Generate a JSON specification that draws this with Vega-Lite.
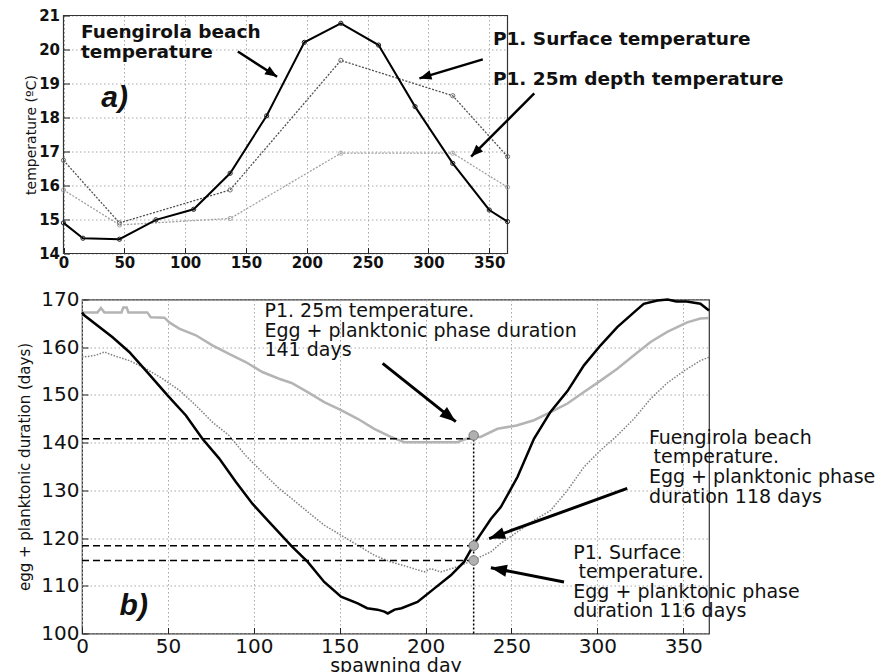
{
  "$schema": "https://vega.github.io/schema/vega-lite/v6.json",
  "background": "white",
  "padding": {"left": 17, "top": 8.5, "right": 0, "bottom": 0},
  "spacing": 18,
  "config": {
    "font": "DejaVu Sans",
    "view": {"stroke": "#333", "strokeWidth": 1.2},
    "axis": {"grid": true, "gridColor": "#a8a8a8", "gridDash": [1.5, 2.5], "gridWidth": 1, "domain": false, "ticks": true, "tickSize": -6, "tickColor": "#222", "tickWidth": 1, "labelColor": "#111", "titleColor": "#111", "titleFontWeight": "normal", "labelFlush": false, "labelOverlap": false}
  },
  "datasets": {
    "temp": [
      {"series": "beach", "day": 0, "temp": 14.9}, {"series": "beach", "day": 16, "temp": 14.45}, {"series": "beach", "day": 46, "temp": 14.42}, {"series": "beach", "day": 76, "temp": 14.99}, {"series": "beach", "day": 107, "temp": 15.3}, {"series": "beach", "day": 137, "temp": 16.36}, {"series": "beach", "day": 167, "temp": 18.05}, {"series": "beach", "day": 198, "temp": 20.21}, {"series": "beach", "day": 228, "temp": 20.77}, {"series": "beach", "day": 259, "temp": 20.13}, {"series": "beach", "day": 289, "temp": 18.32}, {"series": "beach", "day": 320, "temp": 16.65}, {"series": "beach", "day": 350, "temp": 15.28}, {"series": "beach", "day": 365, "temp": 14.94},
      {"series": "surface", "day": 0, "temp": 16.74}, {"series": "surface", "day": 46, "temp": 14.9}, {"series": "surface", "day": 137, "temp": 15.87}, {"series": "surface", "day": 228, "temp": 19.68}, {"series": "surface", "day": 320, "temp": 18.64}, {"series": "surface", "day": 365, "temp": 16.85},
      {"series": "depth25", "day": 0, "temp": 15.87}, {"series": "depth25", "day": 46, "temp": 14.84}, {"series": "depth25", "day": 137, "temp": 15.03}, {"series": "depth25", "day": 228, "temp": 16.95}, {"series": "depth25", "day": 320, "temp": 16.95}, {"series": "depth25", "day": 365, "temp": 15.95}
    ],
    "topframe": [{"day": 0, "temp": 14, "day2": 365, "temp2": 21}],
    "topxticks": [{"day": 50}, {"day": 100}, {"day": 150}, {"day": 200}, {"day": 250}, {"day": 300}, {"day": 350}],
    "topyticks": [{"temp": 15}, {"temp": 16}, {"temp": 17}, {"temp": 18}, {"temp": 19}, {"temp": 20}],
    "topnotes": [
      {"day": 14.4, "temp": 20.33, "text": "Fuengirola beach"},
      {"day": 14.4, "temp": 19.75, "text": "temperature"},
      {"day": 353, "temp": 20.13, "text": "P1. Surface temperature"},
      {"day": 353, "temp": 18.96, "text": "P1. 25m depth temperature"}
    ],
    "toparrows": [
      {"id": "a1", "day": 175.6, "temp": 19.2, "day2": 143.3, "temp2": 19.94},
      {"id": "a2", "day": 292.6, "temp": 19.15, "day2": 344.7, "temp2": 19.71},
      {"id": "a3", "day": 335.1, "temp": 16.85, "day2": 387, "temp2": 18.71}
    ],
    "toplabel": [{"day": 31, "temp": 18.3, "text": "a)"}],
    "dur": [
      {"series": "beach", "day": 0, "dur": 167.3}, {"series": "beach", "day": 1.3, "dur": 166.7}, {"series": "beach", "day": 17.8, "dur": 162.1}, {"series": "beach", "day": 27.5, "dur": 159.0}, {"series": "beach", "day": 37.2, "dur": 155.1}, {"series": "beach", "day": 49.8, "dur": 149.9}, {"series": "beach", "day": 60.5, "dur": 145.7}, {"series": "beach", "day": 70.1, "dur": 140.8}, {"series": "beach", "day": 79.8, "dur": 136.7}, {"series": "beach", "day": 89.5, "dur": 131.8}, {"series": "beach", "day": 99.2, "dur": 127.2}, {"series": "beach", "day": 108.9, "dur": 123.4}, {"series": "beach", "day": 122, "dur": 118.3}, {"series": "beach", "day": 131.4, "dur": 115.0}, {"series": "beach", "day": 141, "dur": 110.8}, {"series": "beach", "day": 150.8, "dur": 107.7}, {"series": "beach", "day": 160.5, "dur": 106.3}, {"series": "beach", "day": 166, "dur": 105.3}, {"series": "beach", "day": 172, "dur": 105.0}, {"series": "beach", "day": 176, "dur": 104.6}, {"series": "beach", "day": 178, "dur": 104.2}, {"series": "beach", "day": 182, "dur": 105.0}, {"series": "beach", "day": 186, "dur": 105.3}, {"series": "beach", "day": 195.3, "dur": 106.6}, {"series": "beach", "day": 205, "dur": 109.4}, {"series": "beach", "day": 214.7, "dur": 112.2}, {"series": "beach", "day": 222.4, "dur": 115.0}, {"series": "beach", "day": 228.3, "dur": 118.8}, {"series": "beach", "day": 238, "dur": 124.0}, {"series": "beach", "day": 243.8, "dur": 126.5}, {"series": "beach", "day": 253.5, "dur": 132.8}, {"series": "beach", "day": 263.1, "dur": 140.8}, {"series": "beach", "day": 272.8, "dur": 146.5}, {"series": "beach", "day": 282.6, "dur": 150.8}, {"series": "beach", "day": 292.2, "dur": 156.2}, {"series": "beach", "day": 301.9, "dur": 160.4}, {"series": "beach", "day": 311.6, "dur": 164.2}, {"series": "beach", "day": 321.3, "dur": 167.3}, {"series": "beach", "day": 327, "dur": 169.1}, {"series": "beach", "day": 335, "dur": 169.8}, {"series": "beach", "day": 341, "dur": 170.0}, {"series": "beach", "day": 346, "dur": 169.6}, {"series": "beach", "day": 352, "dur": 169.6}, {"series": "beach", "day": 360, "dur": 169.1}, {"series": "beach", "day": 365, "dur": 167.7},
      {"series": "depth25", "day": 0, "dur": 167.3}, {"series": "depth25", "day": 9, "dur": 167.3}, {"series": "depth25", "day": 11, "dur": 168.2}, {"series": "depth25", "day": 13, "dur": 167.3}, {"series": "depth25", "day": 23, "dur": 167.3}, {"series": "depth25", "day": 24, "dur": 168.3}, {"series": "depth25", "day": 26, "dur": 168.3}, {"series": "depth25", "day": 27, "dur": 167.3}, {"series": "depth25", "day": 38, "dur": 167.3}, {"series": "depth25", "day": 40, "dur": 166.3}, {"series": "depth25", "day": 48, "dur": 166.2}, {"series": "depth25", "day": 50.8, "dur": 165.2}, {"series": "depth25", "day": 56.6, "dur": 163.9}, {"series": "depth25", "day": 66.3, "dur": 162.5}, {"series": "depth25", "day": 75.9, "dur": 160.4}, {"series": "depth25", "day": 85.6, "dur": 158.6}, {"series": "depth25", "day": 95.3, "dur": 156.9}, {"series": "depth25", "day": 105, "dur": 154.8}, {"series": "depth25", "day": 114.7, "dur": 153.4}, {"series": "depth25", "day": 122, "dur": 152.5}, {"series": "depth25", "day": 131.4, "dur": 150.6}, {"series": "depth25", "day": 141, "dur": 148.5}, {"series": "depth25", "day": 150.8, "dur": 146.8}, {"series": "depth25", "day": 160.5, "dur": 145.0}, {"series": "depth25", "day": 170.1, "dur": 142.9}, {"series": "depth25", "day": 179.8, "dur": 141.2}, {"series": "depth25", "day": 187.6, "dur": 140.1}, {"series": "depth25", "day": 218.6, "dur": 140.1}, {"series": "depth25", "day": 222, "dur": 140.6}, {"series": "depth25", "day": 228, "dur": 141.2}, {"series": "depth25", "day": 232, "dur": 141.2}, {"series": "depth25", "day": 241.9, "dur": 142.9}, {"series": "depth25", "day": 253, "dur": 143.6}, {"series": "depth25", "day": 263.1, "dur": 144.7}, {"series": "depth25", "day": 272.8, "dur": 146.4}, {"series": "depth25", "day": 282.6, "dur": 148.2}, {"series": "depth25", "day": 292.2, "dur": 150.6}, {"series": "depth25", "day": 301.9, "dur": 153.0}, {"series": "depth25", "day": 311.6, "dur": 155.5}, {"series": "depth25", "day": 321.3, "dur": 158.3}, {"series": "depth25", "day": 331, "dur": 161.1}, {"series": "depth25", "day": 340.7, "dur": 163.2}, {"series": "depth25", "day": 352.3, "dur": 165.2}, {"series": "depth25", "day": 360, "dur": 166.0}, {"series": "depth25", "day": 365, "dur": 166.1},
      {"series": "surface", "day": 0, "dur": 157.9}, {"series": "surface", "day": 8, "dur": 158.3}, {"series": "surface", "day": 13, "dur": 159.0}, {"series": "surface", "day": 18, "dur": 158.3}, {"series": "surface", "day": 27.5, "dur": 157.2}, {"series": "surface", "day": 37.2, "dur": 155.5}, {"series": "surface", "day": 46.9, "dur": 153.4}, {"series": "surface", "day": 56.6, "dur": 151.0}, {"series": "surface", "day": 66.3, "dur": 147.8}, {"series": "surface", "day": 75.9, "dur": 144.3}, {"series": "surface", "day": 85.6, "dur": 141.5}, {"series": "surface", "day": 95.3, "dur": 137.3}, {"series": "surface", "day": 105, "dur": 133.8}, {"series": "surface", "day": 114.7, "dur": 130.4}, {"series": "surface", "day": 122, "dur": 128.3}, {"series": "surface", "day": 131.4, "dur": 125.5}, {"series": "surface", "day": 141, "dur": 122.7}, {"series": "surface", "day": 150.8, "dur": 120.6}, {"series": "surface", "day": 160.5, "dur": 118.5}, {"series": "surface", "day": 170.1, "dur": 116.4}, {"series": "surface", "day": 179.8, "dur": 115.0}, {"series": "surface", "day": 189.5, "dur": 114.0}, {"series": "surface", "day": 199.2, "dur": 112.9}, {"series": "surface", "day": 203, "dur": 113.6}, {"series": "surface", "day": 208.9, "dur": 112.9}, {"series": "surface", "day": 218.6, "dur": 114.0}, {"series": "surface", "day": 227.3, "dur": 115.3}, {"series": "surface", "day": 238, "dur": 117.1}, {"series": "surface", "day": 243.8, "dur": 118.9}, {"series": "surface", "day": 263.1, "dur": 123.7}, {"series": "surface", "day": 272.8, "dur": 125.8}, {"series": "surface", "day": 282.6, "dur": 130.0}, {"series": "surface", "day": 292.2, "dur": 134.9}, {"series": "surface", "day": 301.9, "dur": 138.4}, {"series": "surface", "day": 311.6, "dur": 141.5}, {"series": "surface", "day": 321.3, "dur": 145.0}, {"series": "surface", "day": 331, "dur": 149.2}, {"series": "surface", "day": 340.7, "dur": 152.5}, {"series": "surface", "day": 350.3, "dur": 155.0}, {"series": "surface", "day": 360, "dur": 157.2}, {"series": "surface", "day": 365, "dur": 157.9}
    ],
    "botxticks": [{"day": 10}, {"day": 20}, {"day": 30}, {"day": 40}, {"day": 50}, {"day": 60}, {"day": 70}, {"day": 80}, {"day": 90}, {"day": 100}, {"day": 110}, {"day": 120}, {"day": 130}, {"day": 140}, {"day": 150}, {"day": 160}, {"day": 170}, {"day": 180}, {"day": 190}, {"day": 200}, {"day": 210}, {"day": 220}, {"day": 230}, {"day": 240}, {"day": 250}, {"day": 260}, {"day": 270}, {"day": 280}, {"day": 290}, {"day": 300}, {"day": 310}, {"day": 320}, {"day": 330}, {"day": 340}, {"day": 350}, {"day": 360}],
    "botyticks": [{"dur": 102}, {"dur": 104}, {"dur": 106}, {"dur": 108}, {"dur": 110}, {"dur": 112}, {"dur": 114}, {"dur": 116}, {"dur": 118}, {"dur": 120}, {"dur": 122}, {"dur": 124}, {"dur": 126}, {"dur": 128}, {"dur": 130}, {"dur": 132}, {"dur": 134}, {"dur": 136}, {"dur": 138}, {"dur": 140}, {"dur": 142}, {"dur": 144}, {"dur": 146}, {"dur": 148}, {"dur": 150}, {"dur": 152}, {"dur": 154}, {"dur": 156}, {"dur": 158}, {"dur": 160}, {"dur": 162}, {"dur": 164}, {"dur": 166}, {"dur": 168}],
    "hrefs": [
      {"day": 0, "dur": 140.8, "day2": 228},
      {"day": 0, "dur": 118.4, "day2": 228},
      {"day": 0, "dur": 115.3, "day2": 228}
    ],
    "vref": [{"day": 228, "dur": 100, "dur2": 141.5}],
    "markers": [
      {"day": 228, "dur": 141.5},
      {"day": 228, "dur": 118.4},
      {"day": 228, "dur": 115.3}
    ],
    "botnotes": [
      {"day": 106.2, "dur": 166.3, "text": "P1. 25m temperature."},
      {"day": 106.2, "dur": 162.2, "text": "Egg + planktonic phase duration"},
      {"day": 106.2, "dur": 158.2, "text": "141 days"},
      {"day": 330, "dur": 139.8, "text": "Fuengirola beach"},
      {"day": 332.7, "dur": 135.7, "text": "temperature."},
      {"day": 330, "dur": 131.5, "text": "Egg + planktonic phase"},
      {"day": 330, "dur": 127.4, "text": "duration 118 days"},
      {"day": 286, "dur": 115.7, "text": "P1. Surface"},
      {"day": 289, "dur": 111.6, "text": "temperature."},
      {"day": 286, "dur": 107.4, "text": "Egg + planktonic phase"},
      {"day": 286, "dur": 103.4, "text": "duration 116 days"}
    ],
    "botarrows": [
      {"id": "b1", "day": 217.6, "dur": 144.4, "day2": 175, "dur2": 156.6},
      {"id": "b2", "day": 237, "dur": 119.9, "day2": 317.4, "dur2": 130.4},
      {"id": "b3", "day": 238, "dur": 113.8, "day2": 280.6, "dur2": 110.8}
    ],
    "botlabel": [{"day": 21.9, "dur": 103.85, "text": "b)"}]
  },
  "vconcat": [
    {
      "width": 426,
      "height": 238,
      "view": {"stroke": null},
      "encoding": {
        "x": {"field": "day", "type": "quantitative", "scale": {"domain": [0, 365], "range": [-18.5, 425.5], "nice": false, "zero": false},
          "axis": {"values": [0, 50, 100, 150, 200, 250, 300, 350], "labelFontSize": 15, "labelFontWeight": "bold", "labelPadding": 7.5, "labelOverlap": false, "title": null}},
        "y": {"field": "temp", "type": "quantitative", "scale": {"domain": [14, 21], "nice": false, "zero": false},
          "axis": {"values": [14, 15, 16, 17, 18, 19, 20, 21], "offset": 18.5, "labelFontSize": 15, "labelFontWeight": "bold", "labelPadding": 10, "labelOverlap": false, "labelBound": false, "title": "temperature (ºC)", "titleFontSize": 14, "titlePadding": 0}}
      },
      "layer": [
        {
          "data": {"name": "topframe"},
          "mark": {"type": "rect", "fill": "white", "fillOpacity": 0, "stroke": "#333", "strokeWidth": 1.2},
          "encoding": {"x2": {"field": "day2"}, "y2": {"field": "temp2"}}
        },
        {
          "data": {"name": "topxticks"},
          "mark": {"type": "rule", "color": "#222", "strokeWidth": 1},
          "encoding": {
            "y": {"datum": 21, "type": "quantitative", "axis": {"values": [14, 15, 16, 17, 18, 19, 20, 21], "offset": 18.5, "labelFontSize": 15, "labelFontWeight": "bold", "labelPadding": 10, "labelOverlap": false, "labelBound": false, "title": "temperature (ºC)", "titleFontSize": 14, "titlePadding": 0}},
            "y2": {"datum": 20.83}
          }
        },
        {
          "data": {"name": "topyticks"},
          "mark": {"type": "rule", "color": "#222", "strokeWidth": 1},
          "encoding": {
            "x": {"datum": 365, "type": "quantitative", "axis": {"values": [0, 50, 100, 150, 200, 250, 300, 350], "labelFontSize": 15, "labelFontWeight": "bold", "labelPadding": 7.5, "labelOverlap": false, "title": null}},
            "x2": {"datum": 360.1}
          }
        },
        {
          "data": {"name": "temp"},
          "transform": [{"filter": "datum.series === 'depth25'"}],
          "mark": {"type": "line", "color": "#a0a0a0", "strokeWidth": 1.3, "strokeDash": [2, 1.5]}
        },
        {
          "data": {"name": "temp"},
          "transform": [{"filter": "datum.series === 'surface'"}],
          "mark": {"type": "line", "color": "#505050", "strokeWidth": 1.3, "strokeDash": [2, 1.5]}
        },
        {
          "data": {"name": "temp"},
          "transform": [{"filter": "datum.series === 'beach'"}],
          "mark": {"type": "line", "color": "#000", "strokeWidth": 2}
        },
        {
          "data": {"name": "temp"},
          "mark": {"type": "point", "size": 18, "strokeWidth": 1, "opacity": 1},
          "encoding": {
            "color": {"field": "series", "type": "nominal", "scale": {"domain": ["beach", "surface", "depth25"], "range": ["#222", "#707070", "#a8a8a8"]}, "legend": null}
          }
        },
        {
          "data": {"name": "toparrows"},
          "mark": {"type": "rule", "color": "#000", "strokeWidth": 2.5},
          "encoding": {"x2": {"field": "day2"}, "y2": {"field": "temp2"}}
        },
        {
          "data": {"name": "toparrows"},
          "transform": [{"filter": "datum.id === 'a1'"}],
          "mark": {"type": "point", "shape": "M0,0L-0.4,1L0.4,1Z", "filled": true, "color": "#000", "opacity": 1, "size": 576, "angle": 122.5}
        },
        {
          "data": {"name": "toparrows"},
          "transform": [{"filter": "datum.id === 'a2'"}],
          "mark": {"type": "point", "shape": "M0,0L-0.4,1L0.4,1Z", "filled": true, "color": "#000", "opacity": 1, "size": 576, "angle": 253.3}
        },
        {
          "data": {"name": "toparrows"},
          "transform": [{"filter": "datum.id === 'a3'"}],
          "mark": {"type": "point", "shape": "M0,0L-0.4,1L0.4,1Z", "filled": true, "color": "#000", "opacity": 1, "size": 576, "angle": 225}
        },
        {
          "data": {"name": "topnotes"},
          "mark": {"type": "text", "align": "left", "baseline": "alphabetic", "fontSize": 18.5, "fontWeight": "bold", "color": "#111"},
          "encoding": {"text": {"field": "text"}}
        },
        {
          "data": {"name": "toplabel"},
          "mark": {"type": "text", "align": "left", "baseline": "alphabetic", "font": "Liberation Sans", "fontSize": 30, "fontWeight": "bold", "fontStyle": "italic", "color": "#111"},
          "encoding": {"text": {"field": "text"}}
        }
      ]
    },
    {
      "width": 627,
      "height": 334,
      "encoding": {
        "x": {"field": "day", "type": "quantitative", "scale": {"domain": [0, 365], "nice": false, "zero": false},
          "axis": {"values": [0, 50, 100, 150, 200, 250, 300, 350], "labelFontSize": 20, "labelPadding": 9, "labelOverlap": false, "title": "spawning day", "titleFontSize": 19, "titlePadding": 0}},
        "y": {"field": "dur", "type": "quantitative", "scale": {"domain": [100, 170], "nice": false, "zero": false},
          "axis": {"values": [100, 110, 120, 130, 140, 150, 160, 170], "labelFontSize": 20, "labelPadding": 9, "labelOverlap": false, "title": "egg + planktonic duration (days)", "titleFontSize": 15, "titlePadding": 8}}
      },
      "layer": [
        {
          "data": {"name": "botxticks"},
          "mark": {"type": "rule", "color": "#222", "strokeWidth": 1},
          "encoding": {
            "y": {"datum": 100, "type": "quantitative", "axis": {"values": [100, 110, 120, 130, 140, 150, 160, 170], "labelFontSize": 20, "labelPadding": 9, "labelOverlap": false, "title": "egg + planktonic duration (days)", "titleFontSize": 15, "titlePadding": 8}},
            "y2": {"datum": 100.85}
          }
        },
        {
          "data": {"name": "botxticks"},
          "mark": {"type": "rule", "color": "#222", "strokeWidth": 1},
          "encoding": {
            "y": {"datum": 170, "type": "quantitative", "axis": {"values": [100, 110, 120, 130, 140, 150, 160, 170], "labelFontSize": 20, "labelPadding": 9, "labelOverlap": false, "title": "egg + planktonic duration (days)", "titleFontSize": 15, "titlePadding": 8}},
            "y2": {"datum": 169.15}
          }
        },
        {
          "data": {"name": "botyticks"},
          "mark": {"type": "rule", "color": "#222", "strokeWidth": 1},
          "encoding": {
            "x": {"datum": 0, "type": "quantitative", "axis": {"values": [0, 50, 100, 150, 200, 250, 300, 350], "labelFontSize": 20, "labelPadding": 9, "labelOverlap": false, "title": "spawning day", "titleFontSize": 19, "titlePadding": 0}},
            "x2": {"datum": 2.4}
          }
        },
        {
          "data": {"name": "botyticks"},
          "mark": {"type": "rule", "color": "#222", "strokeWidth": 1},
          "encoding": {
            "x": {"datum": 365, "type": "quantitative", "axis": {"values": [0, 50, 100, 150, 200, 250, 300, 350], "labelFontSize": 20, "labelPadding": 9, "labelOverlap": false, "title": "spawning day", "titleFontSize": 19, "titlePadding": 0}},
            "x2": {"datum": 362.6}
          }
        },
        {
          "data": {"name": "dur"},
          "transform": [{"filter": "datum.series === 'depth25'"}],
          "mark": {"type": "line", "color": "#b4b4b4", "strokeWidth": 2.5}
        },
        {
          "data": {"name": "dur"},
          "transform": [{"filter": "datum.series === 'surface'"}],
          "mark": {"type": "line", "color": "#808080", "strokeWidth": 1.5, "strokeDash": [1.5, 1.5]}
        },
        {
          "data": {"name": "dur"},
          "transform": [{"filter": "datum.series === 'beach'"}],
          "mark": {"type": "line", "color": "#000", "strokeWidth": 2.5}
        },
        {
          "data": {"name": "hrefs"},
          "mark": {"type": "rule", "color": "#000", "strokeWidth": 1.5, "strokeDash": [7, 4]},
          "encoding": {"x2": {"field": "day2"}}
        },
        {
          "data": {"name": "vref"},
          "mark": {"type": "rule", "color": "#000", "strokeWidth": 1.5, "strokeDash": [2, 2]},
          "encoding": {"y2": {"field": "dur2"}}
        },
        {
          "data": {"name": "markers"},
          "mark": {"type": "point", "shape": "circle", "filled": true, "size": 90, "color": "#b0b0b0", "stroke": "#777", "strokeWidth": 1, "opacity": 1}
        },
        {
          "data": {"name": "botarrows"},
          "mark": {"type": "rule", "color": "#000", "strokeWidth": 3},
          "encoding": {"x2": {"field": "day2"}, "y2": {"field": "dur2"}}
        },
        {
          "data": {"name": "botarrows"},
          "transform": [{"filter": "datum.id === 'b1'"}],
          "mark": {"type": "point", "shape": "M0,0L-0.38,1L0.38,1Z", "filled": true, "color": "#000", "opacity": 1, "size": 1024, "angle": 128.1}
        },
        {
          "data": {"name": "botarrows"},
          "transform": [{"filter": "datum.id === 'b2'"}],
          "mark": {"type": "point", "shape": "M0,0L-0.38,1L0.38,1Z", "filled": true, "color": "#000", "opacity": 1, "size": 1024, "angle": 250.1}
        },
        {
          "data": {"name": "botarrows"},
          "transform": [{"filter": "datum.id === 'b3'"}],
          "mark": {"type": "point", "shape": "M0,0L-0.38,1L0.38,1Z", "filled": true, "color": "#000", "opacity": 1, "size": 1024, "angle": 281.1}
        },
        {
          "data": {"name": "botnotes"},
          "mark": {"type": "text", "align": "left", "baseline": "alphabetic", "fontSize": 19, "color": "#111"},
          "encoding": {"text": {"field": "text"}}
        },
        {
          "data": {"name": "botlabel"},
          "mark": {"type": "text", "align": "left", "baseline": "alphabetic", "font": "Liberation Sans", "fontSize": 30, "fontWeight": "bold", "fontStyle": "italic", "color": "#111"},
          "encoding": {"text": {"field": "text"}}
        }
      ]
    }
  ]
}
